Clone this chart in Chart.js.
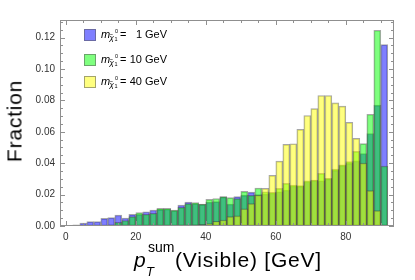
<!DOCTYPE html>
<html>
<head>
<meta charset="utf-8">
<script src="https://cdn.jsdelivr.net/npm/chart.js@4.4.1/dist/chart.umd.min.js"></script>
<style>
  body { margin: 0; background: #fff; }
  #wrap { position: relative; width: 415px; height: 280px; font-family: "Liberation Sans", Arial, sans-serif; color: #000; }
  #chart { position: absolute; left: 0; top: 0; }
  .t { position: absolute; line-height: 0; white-space: nowrap; }
  .sw { position: absolute; left: 84px; width: 10px; height: 10px; border: 1px solid rgba(90, 90, 90, 0.55); }
  #ytitle { position: absolute; left: 14px; top: 121px; font-size: 21px; letter-spacing: 0.8px; line-height: 1;
            white-space: nowrap; transform: translate(-50%, -50%) rotate(-90deg); }
</style>
</head>
<body>
<div id="wrap">
  <canvas id="chart" width="415" height="280"></canvas>
  <div id="ytitle">Fraction</div>
  <div id="legend"></div>
  <div id="xtitle">
    <span class="t" style="left:134px; top:259.7px; font-size:21px; font-style:italic">p</span>
    <span class="t" style="left:148px; top:247.1px; font-size:14px">sum</span>
    <span class="t" style="left:146px; top:271.5px; font-size:13px; font-style:italic">T</span>
    <span class="t" style="left:175px; top:259.7px; font-size:21px; letter-spacing:0.8px">(Visible) [GeV]</span>
  </div>
</div>
<script>
// bin centres (GeV), 2 GeV wide bins
const binCenters = [1, 3, 5, 7, 9, 11, 13, 15, 17, 19, 21, 23, 25, 27, 29, 31, 33, 35, 37, 39, 41, 43, 45,
  47, 49, 51, 53, 55, 57, 59, 61, 63, 65, 67, 69, 71, 73, 75, 77, 79, 81, 83, 85, 87, 89, 91];

// m = 1 GeV
const frac1GeV = [0.0003, 0.0008, 0.0019, 0.0028, 0.0028, 0.0049, 0.0053, 0.0070, 0.0051, 0.0074,
  0.0075, 0.0091, 0.0102, 0.0106, 0.0108, 0.0098, 0.0134, 0.0153, 0.0142, 0.0138,
  0.0153, 0.0155, 0.0186, 0.0140, 0.0187, 0.0197, 0.0216, 0.0200, 0.0205, 0.0210,
  0.0218, 0.0229, 0.0255, 0.0252, 0.0282, 0.0290, 0.0288, 0.0300, 0.0355, 0.0385,
  0.0400, 0.0415, 0.0462, 0.0589, 0.0770, 0.1155];

// m = 10 GeV
const frac10GeV = [null, null, null, null, null, 0.0002, 0.0008, 0.0023, 0.0035, 0.0060,
  0.0085, 0.0075, 0.0081, 0.0112, 0.0112, 0.0102, 0.0119, 0.0142, 0.0149, 0.0140,
  0.0170, 0.0175, 0.0187, 0.0181, 0.0174, 0.0221, 0.0195, 0.0242, 0.0218, 0.0215,
  0.0240, 0.0271, 0.0260, 0.0257, 0.0288, 0.0293, 0.0335, 0.0303, 0.0362, 0.0390,
  0.0410, 0.0475, 0.0525, 0.0712, 0.1247, 0.0382];

// m = 40 GeV
const frac40GeV = [null, null, null, null, null, null, null, null, null, null,
  null, null, null, null, 0.0003, 0.0004, 0.0006, 0.0006, 0.0008, 0.0010,
  0.0015, 0.0030, 0.0038, 0.0060, 0.0064, 0.0110, 0.0142, 0.0197, 0.0240, 0.0322,
  0.0413, 0.0520, 0.0524, 0.0615, 0.0704, 0.0748, 0.0831, 0.0831, 0.0784, 0.0763,
  0.0660, 0.0558, 0.0400, 0.0225, 0.0098, 0.0006];

const massLabels = ['1', '10', '40'];
const fillColors = ['rgba(0, 0, 255, 0.5)', 'rgba(0, 255, 0, 0.5)', 'rgba(255, 255, 0, 0.5)'];
const edgeColor = 'rgba(60, 60, 60, 0.45)';
const frameColor = '#8f8f8f';

// legend with the neutralino subscript, built as html
const legend = document.getElementById('legend');
const rowTops = [29, 54, 76];
massLabels.forEach((m, i) => {
  const y = rowTops[i];
  const base = y + 8.5;
  legend.insertAdjacentHTML('beforeend',
    `<span class="sw" style="top:${y}px; background:${fillColors[i]}"></span>` +
    `<span class="t" style="left:101px; top:${base - 3.8}px; font-size:11px; font-style:italic">m</span>` +
    `<span class="t" style="left:109.5px; top:${base + 0.2}px; font-size:8px; font-style:italic">\u03C7\u0303</span>` +
    `<span class="t" style="left:115px; top:${base - 6.3}px; font-size:5.5px">0</span>` +
    `<span class="t" style="left:114.5px; top:${base + 1.7}px; font-size:5.5px">1</span>` +
    `<span class="t" style="left:120px; top:${base - 3.8}px; font-size:11px">=</span>` +
    `<span class="t" style="left:124px; width:18px; text-align:right; top:${base - 3.8}px; font-size:11px">${m}</span>` +
    `<span class="t" style="left:145px; top:${base - 3.8}px; font-size:11px">GeV</span>`);
});

// frame with inward major/minor ticks on all four sides
const framePlugin = {
  id: 'frame',
  afterDatasetsDraw(chart) {
    const { ctx, chartArea: a, scales: { x, y } } = chart;
    ctx.save();
    ctx.strokeStyle = frameColor;
    ctx.lineWidth = 1;
    ctx.strokeRect(a.left + 0.5, a.top + 0.5, a.right - a.left - 1, a.bottom - a.top - 1);
    ctx.beginPath();
    for (let v = 0; v <= 90; v += 5) {
      const px = Math.round(x.getPixelForValue(v)) + 0.5;
      const len = v % 20 === 0 ? 5 : 3;
      ctx.moveTo(px, a.bottom); ctx.lineTo(px, a.bottom - len);
      ctx.moveTo(px, a.top); ctx.lineTo(px, a.top + len);
    }
    for (let i = 0; i <= 26; i++) {
      const py = Math.round(y.getPixelForValue(i * 0.005)) + 0.5;
      const len = i % 4 === 0 ? 5 : 3;
      ctx.moveTo(a.left, py); ctx.lineTo(a.left + len, py);
      ctx.moveTo(a.right, py); ctx.lineTo(a.right - len, py);
    }
    ctx.stroke();
    ctx.restore();
  }
};

const series = [frac1GeV, frac10GeV, frac40GeV];

new Chart(document.getElementById('chart'), {
  type: 'bar',
  data: {
    labels: binCenters,
    datasets: series.map((d, i) => ({
      label: massLabels[i] + ' GeV',
      data: d,
      backgroundColor: fillColors[i],
      borderColor: edgeColor,
      borderWidth: 1,
      borderSkipped: false,
      grouped: false,
      barPercentage: 1,
      categoryPercentage: 1,
      order: 3 - i
    }))
  },
  options: {
    responsive: false,
    animation: false,
    layout: { padding: { left: 0, top: 20, right: 21, bottom: 0 } },
    plugins: { legend: { display: false }, tooltip: { enabled: false } },
    scales: {
      x: {
        type: 'linear',
        offset: false,
        min: -1.66,
        max: 93.77,
        grid: { display: false, drawTicks: false, offset: false },
        border: { display: false },
        ticks: {
          stepSize: 20,
          includeBounds: false,
          padding: 5,
          color: '#333',
          font: { family: '"Liberation Sans", Arial, sans-serif', size: 10 },
          maxRotation: 0
        },
        afterFit: s => { s.height = 54; }
      },
      y: {
        min: 0,
        max: 0.1312,
        grid: { display: false, drawTicks: false },
        border: { display: false },
        ticks: {
          stepSize: 0.02,
          includeBounds: false,
          padding: 5,
          color: '#333',
          font: { family: '"Liberation Sans", Arial, sans-serif', size: 10 },
          callback: v => v.toFixed(2)
        },
        afterFit: s => { s.width = 60; }
      }
    }
  },
  plugins: [framePlugin]
});
</script>
</body>
</html>
